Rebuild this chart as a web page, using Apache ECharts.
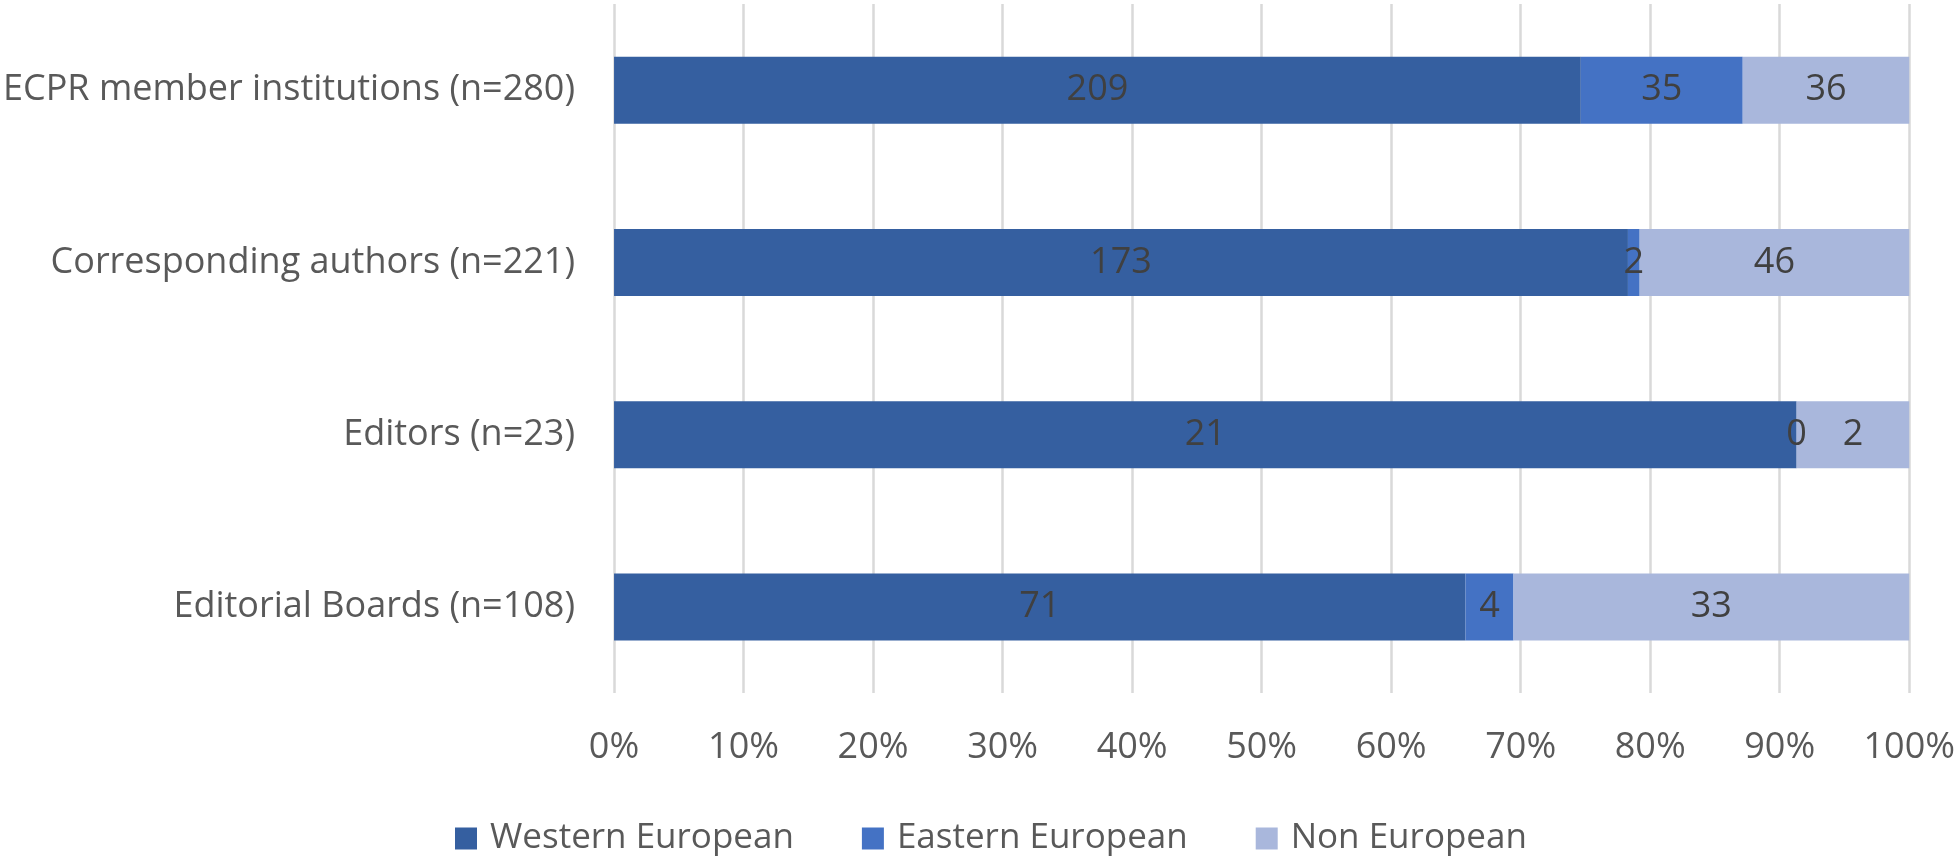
<!DOCTYPE html>
<html>
<head>
<meta charset="utf-8">
<title>Origin by group</title>
<script src="https://cdn.jsdelivr.net/npm/echarts@6/dist/echarts.min.js"></script>
<style>
  html, body { margin: 0; padding: 0; background: #fff; }
  #chart { width: 1958px; height: 858px; }
</style>
</head>
<body>
<div id="chart"></div>
<script>
// categories, top to bottom
const categories = [
  'ECPR member institutions (n=280)',
  'Corresponding authors (n=221)',
  'Editors (n=23)',
  'Editorial Boards (n=108)',
]

// counts per group
const western = [209, 173, 21, 71]
const eastern = [35, 2, 0, 4]
const nonEuropean = [36, 46, 2, 33]

const seriesNames = ['Western European', 'Eastern European', 'Non European']
const colors = ['#355fa0', '#4472c4', '#a9b7dc']

const FONT = '"Open Sans", sans-serif'
const FONT_SIZE = 36

const totals = categories.map((_, i) => western[i] + eastern[i] + nonEuropean[i])

function share(list) {
  return list.map((v, i) => (v / totals[i]) * 100)
}

function makeSeries(name, counts, color) {
  return {
    name,
    type: 'bar',
    stack: 'all',
    barWidth: 67,
    data: share(counts),
    itemStyle: { color },
    label: {
      show: true,
      position: 'inside',
      color: '#404040',
      fontFamily: FONT,
      fontSize: FONT_SIZE,
      formatter: (p) => String(counts[p.dataIndex]),
    },
    emphasis: { disabled: true },
  }
}

function getOption() {
  return {
    animation: false,
    textStyle: { fontFamily: FONT },
    grid: { left: 613, right: 45, top: 4, bottom: 165, containLabel: false },
    xAxis: {
      type: 'value',
      min: 0,
      max: 100,
      interval: 10,
      axisLine: { show: false },
      axisTick: { show: false },
      axisLabel: {
        color: '#595959',
        fontFamily: FONT,
        fontSize: FONT_SIZE,
        margin: 37,
        formatter: '{value}%',
      },
      splitLine: { show: true, lineStyle: { color: '#d9d9d9', width: 2.5 } },
    },
    yAxis: {
      type: 'category',
      inverse: true,
      data: categories,
      axisLine: { show: false },
      axisTick: { show: false },
      axisLabel: {
        color: '#595959',
        fontFamily: FONT,
        fontSize: FONT_SIZE,
        margin: 39,
      },
    },
    legend: {
      left: 450,
      top: 816,
      icon: 'rect',
      itemWidth: 22,
      itemHeight: 22,
      itemGap: 68,
      textStyle: {
        color: '#595959',
        fontFamily: FONT,
        fontSize: 35,
        padding: [0, 0, 0, 8],
      },
      data: seriesNames,
    },
    series: [
      makeSeries(seriesNames[0], western, colors[0]),
      makeSeries(seriesNames[1], eastern, colors[1]),
      makeSeries(seriesNames[2], nonEuropean, colors[2]),
    ],
  }
}

function initChart() {
  const el = document.getElementById('chart')
  const chart = echarts.init(el)
  chart.setOption(getOption())
}

initChart()
</script>
</body>
</html>
